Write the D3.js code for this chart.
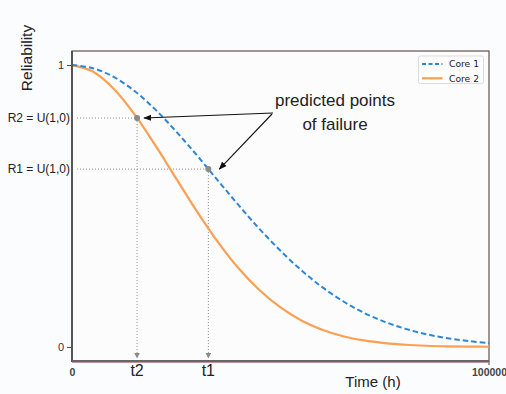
<!DOCTYPE html>
<html>
<head>
<meta charset="utf-8">
<script src="https://cdn.jsdelivr.net/npm/d3@7/dist/d3.min.js"></script>
<style>
  html, body { margin: 0; padding: 0; background: #fbfcfd; }
  svg { display: block; }
</style>
</head>
<body>
<svg id="chart" width="506" height="394"></svg>
<script>
// ---- data ----
const timeHours = [0, 5000, 10000, 15000, 20000, 25000, 30000, 35000, 40000, 45000, 50000,
  55000, 60000, 65000, 70000, 75000, 80000, 85000, 90000, 95000, 100000];
const core1 = [1, 0.989, 0.958, 0.908, 0.842, 0.764, 0.679, 0.590, 0.502, 0.418, 0.341,
  0.272, 0.212, 0.162, 0.121, 0.089, 0.064, 0.045, 0.031, 0.021, 0.0135];
const core2 = [1, 0.977, 0.916, 0.825, 0.715, 0.597, 0.480, 0.372, 0.278, 0.201, 0.140,
  0.094, 0.061, 0.038, 0.023, 0.0135, 0.0076, 0.0042, 0.0022, 0.0011, 0.0006];
const seriesNames = ["Core 1", "Core 2"];
const failurePoints = [
  { name: "t2", time: 15600, rel: 0.812, label: "R2 = U(1,0)" },
  { name: "t1", time: 32700, rel: 0.631, label: "R1 = U(1,0)" }
];
const yTickValues = [0, 1];
const xTickValues = [0, 100000];
const annotationLines = ["predicted points", "of failure"];
const yTitle = "Reliability";
const xTitle = "Time (h)";

// ---- layout ----
const svg = d3.select("#chart");
const L = 72, R = 489, T = 51, B = 361;
const x = d3.scaleLinear().domain([0, 100000]).range([L, R]);
const y = d3.scaleLinear().domain([-0.05, 1.05]).range([B, T]);

const blue = "#2e86d6", orange = "#fb9f52", grey = "#8a8a8a";

svg.append("rect").attr("width", 506).attr("height", 394).attr("fill", "#fbfcfd");

// defs: arrow markers
const defs = svg.append("defs");
defs.append("marker").attr("id", "arrBlack").attr("viewBox", "0 0 10 10")
  .attr("refX", 9).attr("refY", 5).attr("markerWidth", 8).attr("markerHeight", 8)
  .attr("markerUnits", "userSpaceOnUse").attr("orient", "auto")
  .append("path").attr("d", "M0,1 L10,5 L0,9 Z").attr("fill", "#111");
defs.append("marker").attr("id", "arrGrey").attr("viewBox", "0 0 10 10")
  .attr("refX", 9).attr("refY", 5).attr("markerWidth", 6).attr("markerHeight", 6)
  .attr("markerUnits", "userSpaceOnUse").attr("orient", "auto")
  .append("path").attr("d", "M0,0 L10,5 L0,10 Z").attr("fill", grey);

// frame (top/right)
svg.append("rect").attr("x", L).attr("y", T).attr("width", R - L).attr("height", B - T)
  .attr("fill", "#fcfcfd").attr("stroke", "#6e6059").attr("stroke-width", 1.3);

// guide lines
const g = svg.append("g");
failurePoints.forEach(p => {
  g.append("line").attr("x1", L + 5).attr("x2", x(p.time)).attr("y1", y(p.rel)).attr("y2", y(p.rel))
    .attr("stroke", grey).attr("stroke-width", 1).attr("stroke-dasharray", "1,2");
  g.append("line").attr("x1", x(p.time)).attr("x2", x(p.time)).attr("y1", y(p.rel)).attr("y2", B - 3)
    .attr("stroke", grey).attr("stroke-width", 1).attr("stroke-dasharray", "1,2")
    .attr("marker-end", "url(#arrGrey)");
});

// curves
const line = d3.line().x(d => x(d[0])).y(d => y(d[1])).curve(d3.curveCatmullRom.alpha(0.5));
svg.append("path").datum(timeHours.map((t, i) => [t, core2[i]]))
  .attr("d", line).attr("fill", "none").attr("stroke", orange).attr("stroke-width", 2.2);
svg.append("path").datum(timeHours.map((t, i) => [t, core1[i]]))
  .attr("d", line).attr("fill", "none").attr("stroke", blue).attr("stroke-width", 2)
  .attr("stroke-dasharray", "5.5,3");

// failure points
svg.selectAll("circle.fp").data(failurePoints).join("circle").attr("class", "fp")
  .attr("cx", d => x(d.time)).attr("cy", d => y(d.rel)).attr("r", 3).attr("fill", grey);

// annotation arrows
const ax = 273, ay = 113;
svg.append("line").attr("x1", ax).attr("y1", ay)
  .attr("x2", x(failurePoints[0].time) + 7).attr("y2", y(failurePoints[0].rel))
  .attr("stroke", "#111").attr("stroke-width", 1.1).attr("marker-end", "url(#arrBlack)");
svg.append("line").attr("x1", ax - 1).attr("y1", ay + 1)
  .attr("x2", x(failurePoints[1].time) + 11).attr("y2", y(failurePoints[1].rel))
  .attr("stroke", "#111").attr("stroke-width", 1.1).attr("marker-end", "url(#arrBlack)");

const ann = svg.append("text").attr("font-family", "Liberation Sans, Arial, sans-serif")
  .attr("font-size", 17).attr("fill", "#222").attr("text-anchor", "middle");
annotationLines.forEach((s, i) => ann.append("tspan").attr("x", 335).attr("y", 106 + i * 24).text(s));

// axes
const yAxis = d3.axisLeft(y).tickValues(yTickValues).tickSize(5).tickFormat(d3.format("d"));
const yg = svg.append("g").attr("transform", `translate(${L},0)`).call(yAxis);
yg.select(".domain").remove();
yg.selectAll(".tick line").attr("stroke", "#444");
yg.selectAll(".tick text").attr("font-family", "Liberation Sans, Arial, sans-serif")
  .attr("font-size", 11).attr("fill", "#333").attr("x", -8);

// R labels as extra left tick labels
svg.selectAll("text.rl").data(failurePoints).join("text").attr("class", "rl")
  .attr("x", 70).attr("y", d => y(d.rel)).attr("dy", "0.35em").attr("text-anchor", "end")
  .attr("font-family", "Liberation Sans, Arial, sans-serif").attr("font-size", 12)
  .attr("fill", "#222").text(d => d.label);

const xAxis = d3.axisBottom(x).tickValues(xTickValues).tickSize(0).tickFormat(d3.format("d"));
const xg = svg.append("g").attr("transform", `translate(0,${B})`).call(xAxis);
xg.select(".domain").remove();
xg.selectAll(".tick text").attr("font-family", "Liberation Sans, Arial, sans-serif")
  .attr("font-size", 10.5).attr("font-weight", "bold").attr("fill", "#444").attr("y", 7.5);
svg.append("line").attr("x1", x(100000)).attr("x2", x(100000)).attr("y1", B).attr("y2", B + 4)
  .attr("stroke", "#444").attr("stroke-width", 1);

// t labels
svg.selectAll("text.tl").data(failurePoints).join("text").attr("class", "tl")
  .attr("x", d => x(d.time)).attr("y", 375.5).attr("text-anchor", "middle")
  .attr("font-family", "Liberation Sans, Arial, sans-serif").attr("font-size", 16)
  .attr("fill", "#222").text(d => d.name);

// left & bottom spines
svg.append("line").attr("x1", L).attr("x2", L).attr("y1", T).attr("y2", B + 1)
  .attr("stroke", "#555").attr("stroke-width", 2);
svg.append("line").attr("x1", L).attr("x2", R).attr("y1", B).attr("y2", B)
  .attr("stroke", "#666").attr("stroke-width", 2);
svg.append("line").attr("x1", L).attr("x2", R).attr("y1", B + 1.5).attr("y2", B + 1.5)
  .attr("stroke", "#b0807a").attr("stroke-width", 0.8);

// titles
svg.append("text").attr("transform", "translate(32,58) rotate(-90)").attr("text-anchor", "middle")
  .attr("font-family", "Liberation Sans, Arial, sans-serif").attr("font-size", 15.5)
  .attr("fill", "#222").text(yTitle);
svg.append("text").attr("x", 373).attr("y", 387).attr("text-anchor", "middle")
  .attr("font-family", "Liberation Sans, Arial, sans-serif").attr("font-size", 15)
  .attr("fill", "#222").text(xTitle);

// legend
const lg = svg.append("g");
lg.append("rect").attr("x", 418.5).attr("y", 56).attr("width", 65).attr("height", 27.5)
  .attr("rx", 2).attr("fill", "#fdfdfd").attr("stroke", "#dcdcdc").attr("stroke-width", 1);
const legendStyles = [{ c: blue, dash: "4,2.5", w: 1.8 }, { c: orange, dash: null, w: 2.2 }];
seriesNames.forEach((n, i) => {
  const yy = 64 + i * 14.3;
  lg.append("line").attr("x1", 422).attr("x2", 442.5).attr("y1", yy).attr("y2", yy)
    .attr("stroke", legendStyles[i].c).attr("stroke-width", legendStyles[i].w)
    .attr("stroke-dasharray", legendStyles[i].dash);
  lg.append("text").attr("x", 449).attr("y", yy).attr("dy", "0.35em")
    .attr("font-family", "DejaVu Sans, sans-serif").attr("font-size", 9.2)
    .attr("fill", "#222").text(n);
});
</script>
</body>
</html>
